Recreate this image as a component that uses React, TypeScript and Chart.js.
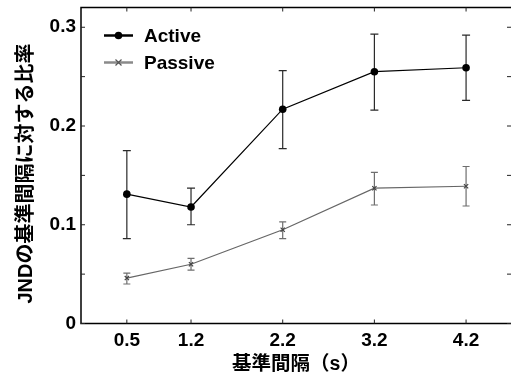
import React, { useEffect, useRef } from "react";
import { Chart, registerables } from "chart.js";

Chart.register(...registerables);

// ---- data ----
const intervals = [0.5, 1.2, 2.2, 3.2, 4.2];
const activeMean = [0.131, 0.118, 0.217, 0.255, 0.259];
const activeUpper = [0.175, 0.137, 0.256, 0.293, 0.292];
const activeLower = [0.086, 0.100, 0.177, 0.216, 0.226];
const passiveMean = [0.046, 0.060, 0.095, 0.137, 0.139];
const passiveUpper = [0.051, 0.066, 0.103, 0.153, 0.159];
const passiveLower = [0.040, 0.054, 0.086, 0.120, 0.119];
const yTickValues = [0, 0.05, 0.1, 0.15, 0.2, 0.25, 0.3];
const yTickLabels = ["0", "", "0.1", "", "0.2", "", "0.3"];
const seriesNames = ["Active", "Passive"];
const xTitle = "基準間隔（s）";
const yTitle = "JNDの基準間隔に対する比率";

const FONT = "'Liberation Sans', 'Noto Sans CJK JP', sans-serif";

const errorBarPlugin = {
  id: "errorBars",
  beforeDatasetsDraw(chart: any) {
    const { ctx, scales } = chart;
    const x = scales.x;
    const y = scales.y;
    const sets = [
      { up: activeUpper, lo: activeLower, color: "#2a2a2a", cap: 4 },
      { up: passiveUpper, lo: passiveLower, color: "#6e6e6e", cap: 3.5 },
    ];
    ctx.save();
    sets.forEach((s) => {
      ctx.strokeStyle = s.color;
      ctx.lineWidth = 1.2;
      intervals.forEach((xv, i) => {
        const px = x.getPixelForValue(xv);
        const pu = y.getPixelForValue(s.up[i]);
        const pl = y.getPixelForValue(s.lo[i]);
        ctx.beginPath();
        ctx.moveTo(px, pu);
        ctx.lineTo(px, pl);
        ctx.moveTo(px - s.cap, pu);
        ctx.lineTo(px + s.cap, pu);
        ctx.moveTo(px - s.cap, pl);
        ctx.lineTo(px + s.cap, pl);
        ctx.stroke();
      });
    });
    ctx.restore();
  },
};

const boxPlugin = {
  id: "boxAndLegend",
  afterDraw(chart: any) {
    const { ctx, chartArea: ca, scales } = chart;
    const x = scales.x;
    const y = scales.y;
    ctx.save();
    ctx.strokeStyle = "#000";
    ctx.lineWidth = 1.5;
    ctx.beginPath();
    ctx.moveTo(ca.right + 2, ca.top);
    ctx.lineTo(ca.left, ca.top);
    ctx.lineTo(ca.left, ca.bottom);
    ctx.lineTo(ca.right + 2, ca.bottom);
    ctx.stroke();
    ctx.lineWidth = 1;
    ctx.strokeStyle = "#222";
    const tl = 4;
    yTickValues.forEach((v) => {
      const py = y.getPixelForValue(v);
      ctx.beginPath();
      ctx.moveTo(ca.left, py);
      ctx.lineTo(ca.left + tl, py);
      ctx.moveTo(ca.right, py);
      ctx.lineTo(ca.right - tl, py);
      ctx.stroke();
    });
    intervals.forEach((v) => {
      const px = x.getPixelForValue(v);
      ctx.beginPath();
      ctx.moveTo(px, ca.bottom);
      ctx.lineTo(px, ca.bottom - tl);
      ctx.moveTo(px, ca.top);
      ctx.lineTo(px, ca.top + tl);
      ctx.stroke();
    });
    // y-axis title
    ctx.save();
    ctx.translate(26, (ca.top + ca.bottom) / 2 + 8);
    ctx.rotate(-Math.PI / 2);
    ctx.font = `bold 20px ${FONT}`;
    ctx.fillStyle = "#000";
    ctx.textAlign = "center";
    ctx.textBaseline = "middle";
    ctx.fillText(yTitle, 0, 0);
    ctx.restore();
    // legend
    const lx1 = ca.left + 23;
    const lx2 = ca.left + 52;
    const lm = (lx1 + lx2) / 2;
    const tx = ca.left + 63;
    const ly = [ca.top + 28, ca.top + 55];
    ctx.font = `bold 19px ${FONT}`;
    ctx.textBaseline = "middle";
    ctx.textAlign = "left";
    ctx.strokeStyle = "#000";
    ctx.lineWidth = 2.5;
    ctx.beginPath();
    ctx.moveTo(lx1, ly[0]);
    ctx.lineTo(lx2, ly[0]);
    ctx.stroke();
    ctx.fillStyle = "#000";
    ctx.beginPath();
    ctx.arc(lm, ly[0], 3.8, 0, Math.PI * 2);
    ctx.fill();
    ctx.fillText(seriesNames[0], tx, ly[0] + 1);
    ctx.strokeStyle = "#8a8a8a";
    ctx.lineWidth = 2.5;
    ctx.beginPath();
    ctx.moveTo(lx1, ly[1]);
    ctx.lineTo(lx2, ly[1]);
    ctx.stroke();
    ctx.strokeStyle = "#555";
    ctx.lineWidth = 1.2;
    const r = 3;
    ctx.beginPath();
    ctx.moveTo(lm - r, ly[1] - r);
    ctx.lineTo(lm + r, ly[1] + r);
    ctx.moveTo(lm - r, ly[1] + r);
    ctx.lineTo(lm + r, ly[1] - r);
    ctx.stroke();
    ctx.fillStyle = "#000";
    ctx.fillText(seriesNames[1], tx, ly[1] + 1);
    ctx.restore();
  },
};

const zeroPad = (s: any) => {
  s.paddingTop = 0;
  s.paddingBottom = 0;
  s.paddingLeft = 0;
  s.paddingRight = 0;
};

export default function App() {
  const ref = useRef<HTMLCanvasElement | null>(null);
  useEffect(() => {
    if (!ref.current) return;
    const chart = new Chart(ref.current, {
      type: "line",
      data: {
        datasets: [
          {
            label: seriesNames[0],
            data: intervals.map((v, i) => ({ x: v, y: activeMean[i] })),
            borderColor: "#000",
            backgroundColor: "#000",
            borderWidth: 1.2,
            pointStyle: "circle",
            pointRadius: 3.8,
            pointBackgroundColor: "#000",
            pointBorderColor: "#000",
            pointBorderWidth: 0,
            tension: 0,
          },
          {
            label: seriesNames[1],
            data: intervals.map((v, i) => ({ x: v, y: passiveMean[i] })),
            borderColor: "#666",
            backgroundColor: "#555",
            borderWidth: 1.2,
            pointStyle: "crossRot",
            pointRadius: 3,
            pointBorderColor: "#444",
            pointBorderWidth: 1.2,
            tension: 0,
          },
        ],
      },
      options: {
        animation: false,
        responsive: false,
        layout: { autoPadding: false, padding: { left: 0, right: 0, top: 7.5, bottom: 0 } },
        plugins: { legend: { display: false }, tooltip: { enabled: false } },
        scales: {
          x: {
            type: "linear",
            min: 0,
            max: 4.69,
            afterBuildTicks: (s: any) => {
              s.ticks = intervals.map((v) => ({ value: v }));
            },
            afterFit: (s: any) => {
              s.height = 52.5;
              zeroPad(s);
            },
            grid: { display: false, drawTicks: false },
            border: { display: false },
            ticks: {
              autoSkip: false,
              maxRotation: 0,
              padding: 6,
              color: "#000",
              font: { family: FONT, size: 19, weight: "bold" },
              callback: (v: any) => String(v),
            },
            title: {
              display: true,
              text: xTitle,
              color: "#000",
              font: { family: FONT, size: 19.5, weight: "bold" },
              padding: { top: 0, bottom: 0 },
            },
          },
          y: {
            type: "linear",
            min: 0,
            max: 0.32,
            afterBuildTicks: (s: any) => {
              s.ticks = yTickValues.map((v) => ({ value: v }));
            },
            afterFit: (s: any) => {
              s.width = 81;
              zeroPad(s);
            },
            grid: { display: false, drawTicks: false },
            border: { display: false },
            ticks: {
              autoSkip: false,
              padding: 5,
              color: "#000",
              font: { family: FONT, size: 19, weight: "bold" },
              callback: (_v: any, i: number) => yTickLabels[i],
            },
            title: { display: false },
          },
        },
      },
      plugins: [errorBarPlugin, boxPlugin],
    } as any);
    return () => chart.destroy();
  }, []);
  return (
    <div style={{ position: "absolute", left: 0, top: 0, width: 511, height: 376, background: "#fff" }}>
      <canvas ref={ref} width={511} height={376} style={{ display: "block" }} />
    </div>
  );
}
